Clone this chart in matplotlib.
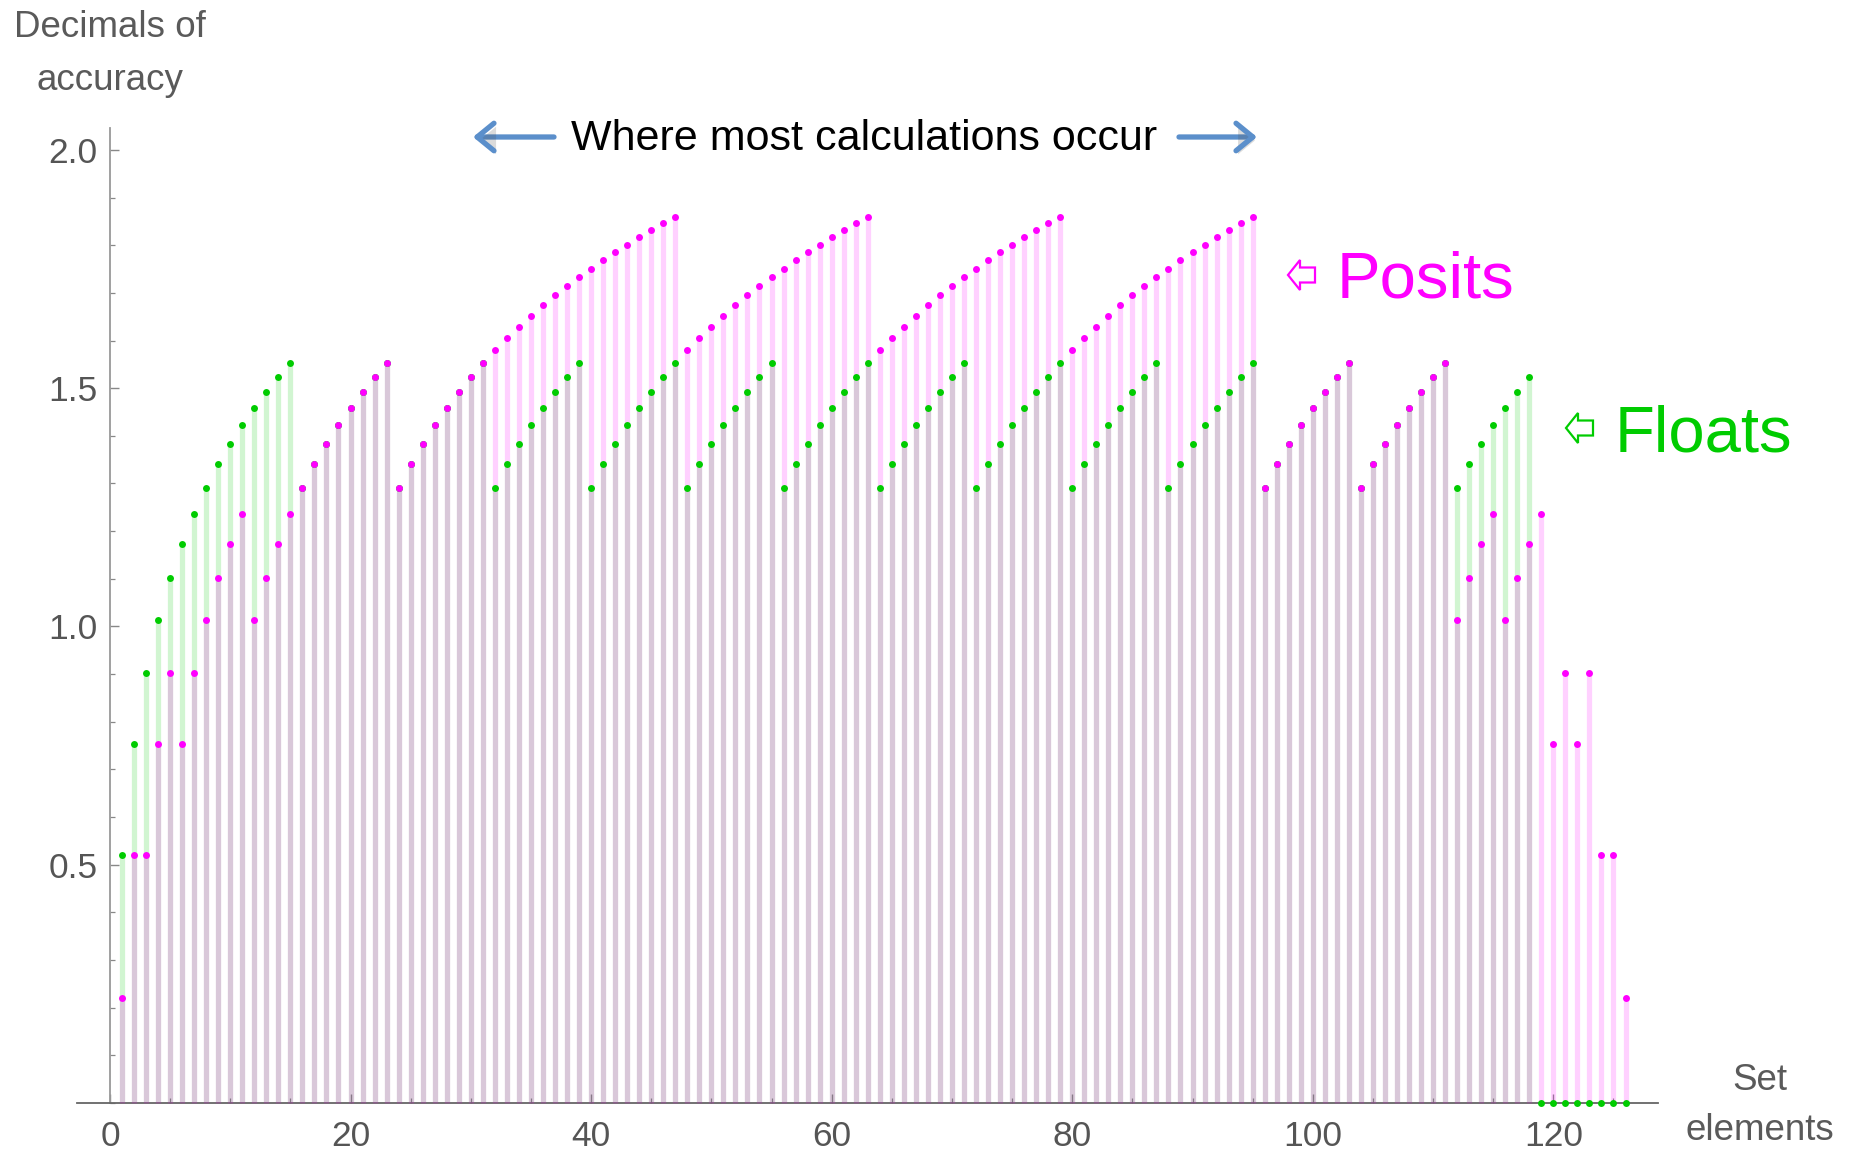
import matplotlib
matplotlib.use('Agg')
import matplotlib.pyplot as plt
from matplotlib.patches import Polygon, FancyArrowPatch
from matplotlib.ticker import MultipleLocator, FixedLocator, FormatStrFormatter
import matplotlib.patheffects as pe

W, H = 1856, 1155
plt.rcParams['font.family'] = ['Liberation Sans', 'DejaVu Sans']

# ---------------- data ----------------
set_elements = list(range(1, 127))

floats = [
    0.521, 0.754, 0.903, 1.014, 1.101, 1.174, 1.237,
    1.291, 1.340, 1.383, 1.423, 1.459, 1.492, 1.523, 1.552,
    1.291, 1.340, 1.383, 1.423, 1.459, 1.492, 1.523, 1.552,
    1.291, 1.340, 1.383, 1.423, 1.459, 1.492, 1.523, 1.552,
    1.291, 1.340, 1.383, 1.423, 1.459, 1.492, 1.523, 1.552,
    1.291, 1.340, 1.383, 1.423, 1.459, 1.492, 1.523, 1.552,
    1.291, 1.340, 1.383, 1.423, 1.459, 1.492, 1.523, 1.552,
    1.291, 1.340, 1.383, 1.423, 1.459, 1.492, 1.523, 1.552,
    1.291, 1.340, 1.383, 1.423, 1.459, 1.492, 1.523, 1.552,
    1.291, 1.340, 1.383, 1.423, 1.459, 1.492, 1.523, 1.552,
    1.291, 1.340, 1.383, 1.423, 1.459, 1.492, 1.523, 1.552,
    1.291, 1.340, 1.383, 1.423, 1.459, 1.492, 1.523, 1.552,
    1.291, 1.340, 1.383, 1.423, 1.459, 1.492, 1.523, 1.552,
    1.291, 1.340, 1.383, 1.423, 1.459, 1.492, 1.523, 1.552,
    1.291, 1.340, 1.383, 1.423, 1.459, 1.492, 1.523,
    0.0, 0.0, 0.0, 0.0, 0.0, 0.0, 0.0, 0.0,
]

posits = [
    0.220, 0.521, 0.521, 0.754, 0.903, 0.754, 0.903,
    1.014, 1.101, 1.174, 1.237, 1.014, 1.101, 1.174, 1.237,
    1.291, 1.340, 1.383, 1.423, 1.459, 1.492, 1.523, 1.552,
    1.291, 1.340, 1.383, 1.423, 1.459, 1.492, 1.523, 1.552,
    1.580, 1.605, 1.629, 1.652, 1.674, 1.695, 1.714, 1.733,
    1.751, 1.769, 1.785, 1.801, 1.817, 1.832, 1.846, 1.860,
    1.580, 1.605, 1.629, 1.652, 1.674, 1.695, 1.714, 1.733,
    1.751, 1.769, 1.785, 1.801, 1.817, 1.832, 1.846, 1.860,
    1.580, 1.605, 1.629, 1.652, 1.674, 1.695, 1.714, 1.733,
    1.751, 1.769, 1.785, 1.801, 1.817, 1.832, 1.846, 1.860,
    1.580, 1.605, 1.629, 1.652, 1.674, 1.695, 1.714, 1.733,
    1.751, 1.769, 1.785, 1.801, 1.817, 1.832, 1.846, 1.860,
    1.291, 1.340, 1.383, 1.423, 1.459, 1.492, 1.523, 1.552,
    1.291, 1.340, 1.383, 1.423, 1.459, 1.492, 1.523, 1.552,
    1.014, 1.101, 1.174, 1.237, 1.014, 1.101, 1.174, 1.237,
    0.754, 0.903, 0.754, 0.903, 0.521, 0.521, 0.220,
]

x_ticks = [0, 20, 40, 60, 80, 100, 120]
y_ticks = [0.5, 1.0, 1.5, 2.0]

FLOAT_C = '#00CC00'
POSIT_C = '#FF00FF'
GRAY_TXT = '#5a5a5a'


def fx(px):
    return px / W


def fy(py):
    return 1 - py / H


# ---------------- figure ----------------
fig = plt.figure(figsize=(W / 100, H / 100), dpi=100)
ymin, ymax = -0.012, 2.046
xmin, xmax = -2.74, 128.7
ax = fig.add_axes([fx(77), fy(1108.7), fx(1658) - fx(77), fy(128) - fy(1108.7)])
ax.set_xlim(xmin, xmax)
ax.set_ylim(ymin, ymax)

ax.vlines(set_elements, 0, floats, colors=FLOAT_C, alpha=0.18, lw=3.8, zorder=2)
ax.vlines(set_elements, 0, posits, colors=POSIT_C, alpha=0.18, lw=3.8, zorder=3)
ax.plot(set_elements, floats, 'o', color=FLOAT_C, ms=5.0, mew=0, zorder=4, clip_on=False)
ax.plot(set_elements, posits, 'o', color=POSIT_C, ms=5.0, mew=0, zorder=5, clip_on=False)

for s in ['top', 'right']:
    ax.spines[s].set_visible(False)
ax.spines['left'].set_position(('data', 0))
ax.spines['left'].set_bounds(0, ymax)
ax.spines['bottom'].set_position(('data', 0))
ax.spines['left'].set_color('#999999')
ax.spines['bottom'].set_color('#666666')
ax.spines['left'].set_linewidth(1.3)
ax.spines['bottom'].set_linewidth(1.3)

ax.xaxis.set_major_locator(FixedLocator(x_ticks))
ax.xaxis.set_minor_locator(MultipleLocator(5))
ax.yaxis.set_major_locator(FixedLocator(y_ticks))
ax.yaxis.set_minor_locator(MultipleLocator(0.1))
ax.yaxis.set_major_formatter(FormatStrFormatter('%.1f'))

ax.tick_params(axis='both', which='major', direction='in', length=6.5, width=1.0,
               color='#888888', labelcolor='#555555', labelsize=25.5)
ax.tick_params(axis='both', which='minor', direction='in', length=3.5, width=0.9,
               color='#888888')
ax.tick_params(axis='x', which='major', pad=12)
ax.tick_params(axis='y', which='major', pad=9)
ax.patch.set_alpha(0)

# ---------------- annotations ----------------
fig.text(fx(110), fy(37), 'Decimals of', ha='center', va='baseline',
         fontsize=26.5, color=GRAY_TXT)
fig.text(fx(110), fy(90), 'accuracy', ha='center', va='baseline',
         fontsize=26.5, color=GRAY_TXT)
fig.text(fx(1760), fy(1090), 'Set', ha='center', va='baseline',
         fontsize=26.5, color=GRAY_TXT)
fig.text(fx(1760), fy(1140), 'elements', ha='center', va='baseline',
         fontsize=26.5, color=GRAY_TXT)

fig.text(fx(864), fy(150), 'Where most calculations occur', ha='center',
         va='baseline', fontsize=31, color='black')

for (xa, xb) in [(554, 473), (1179, 1257)]:
    arr = FancyArrowPatch((fx(xa), fy(137)), (fx(xb), fy(137)),
                          transform=fig.transFigure,
                          arrowstyle='->,head_length=0.55,head_width=0.45',
                          mutation_scale=22, lw=3.8, color='#5B8FCB',
                          shrinkA=0, shrinkB=0)
    arr.set_path_effects([pe.withSimplePatchShadow(offset=(1.5, -2.5), alpha=0.2)])
    fig.add_artist(arr)


def hollow_arrow(x0, yc, color):
    pts = [(x0, yc), (x0 + 12, yc - 15), (x0 + 12, yc - 7.5), (x0 + 27, yc - 7.5),
           (x0 + 27, yc + 7.5), (x0 + 12, yc + 7.5), (x0 + 12, yc + 15)]
    poly = Polygon([(fx(px), fy(py)) for px, py in pts], closed=True, fill=False,
                   edgecolor=color, lw=1.6, transform=fig.transFigure)
    fig.add_artist(poly)


hollow_arrow(1288, 275, POSIT_C)
fig.text(fx(1337), fy(298), 'Posits', ha='left', va='baseline', fontsize=47,
         color=POSIT_C)
hollow_arrow(1566, 428, FLOAT_C)
fig.text(fx(1615), fy(452), 'Floats', ha='left', va='baseline', fontsize=47,
         color=FLOAT_C)

fig.savefig('out.png', dpi=100)
